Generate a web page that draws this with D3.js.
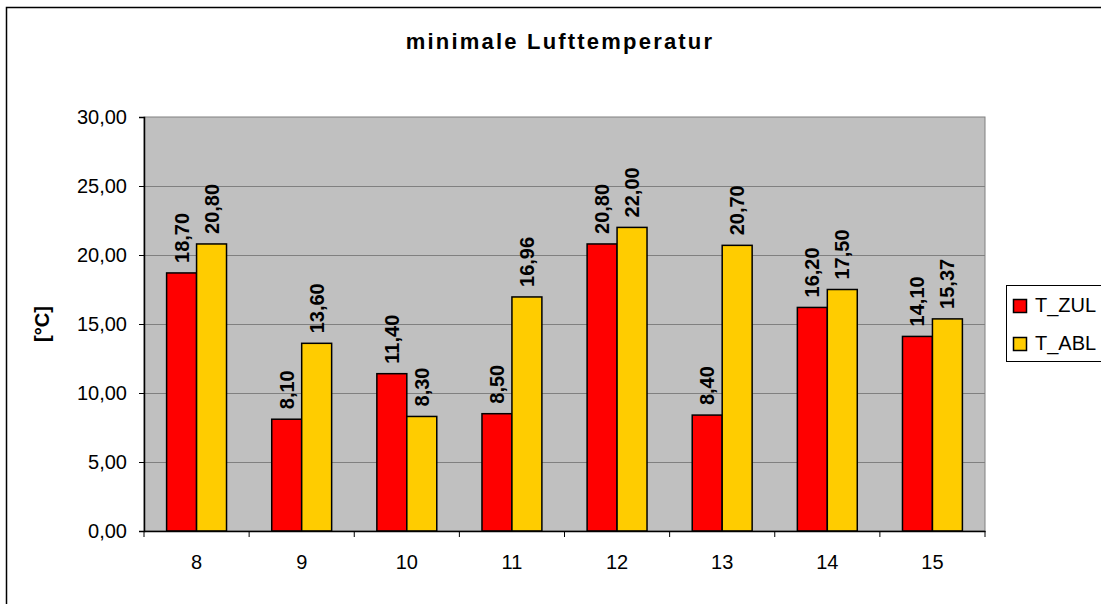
<!DOCTYPE html>
<html>
<head>
<meta charset="utf-8">
<script src="https://cdn.jsdelivr.net/npm/d3@7"></script>
<style>
  body { margin: 0; background: #fff; }
  svg { display: block; }
</style>
</head>
<body>
<svg id="chart" width="1101" height="604"></svg>
<script>
// Daten
const categories = ['8', '9', '10', '11', '12', '13', '14', '15'];
const seriesNames = ['T_ZUL', 'T_ABL'];
const tZul = [18.70, 8.10, 11.40, 8.50, 20.80, 8.40, 16.20, 14.10];
const tAbl = [20.80, 13.60, 8.30, 16.96, 22.00, 20.70, 17.50, 15.37];
const yTicks = [0, 5, 10, 15, 20, 25, 30];
const colors = ['#FF0000', '#FFCC00'];

const svg = d3.select('#chart');
const fmt = v => d3.format('.2f')(v).replace('.', ',');
const font = 'Liberation Sans, Arial';

// Rahmen (läuft rechts und unten aus dem Bild)
svg.append('rect')
  .attr('x', 6.5).attr('y', 7.5)
  .attr('width', 1200).attr('height', 700)
  .attr('fill', '#fff').attr('stroke', '#000').attr('stroke-width', 1.5);

const plot = { left: 144, top: 117, right: 985, bottom: 531 };

const x = d3.scaleBand()
  .domain(categories)
  .range([plot.left, plot.right])
  .paddingInner(0.43)
  .paddingOuter(0.215);

const xSub = d3.scaleBand()
  .domain(seriesNames)
  .range([0, x.bandwidth()]);

const y = d3.scaleLinear()
  .domain([0, 30])
  .range([plot.bottom, plot.top]);

// Hintergrund
svg.append('rect')
  .attr('x', plot.left).attr('y', plot.top)
  .attr('width', plot.right - plot.left).attr('height', plot.bottom - plot.top)
  .attr('fill', '#C0C0C0')
  .attr('stroke', '#808080');

// Gitterlinien
svg.append('g')
  .selectAll('line')
  .data(yTicks.filter(d => d > 0 && d < 30))
  .join('line')
  .attr('x1', plot.left).attr('x2', plot.right)
  .attr('y1', d => y(d) + 0.5).attr('y2', d => y(d) + 0.5)
  .attr('stroke', '#808080').attr('stroke-width', 1);

// Balken
const rows = categories.map((c, i) => ({ cat: c, values: [tZul[i], tAbl[i]] }));

const groups = svg.append('g')
  .selectAll('g')
  .data(rows)
  .join('g')
  .attr('transform', d => `translate(${x(d.cat)},0)`);

groups.selectAll('rect')
  .data(d => d.values.map((v, k) => ({ name: seriesNames[k], v: v, k: k })))
  .join('rect')
  .attr('x', d => xSub(d.name))
  .attr('y', d => y(d.v))
  .attr('width', xSub.bandwidth())
  .attr('height', d => y(0) - y(d.v))
  .attr('fill', d => colors[d.k])
  .attr('stroke', '#000')
  .attr('stroke-width', 1.5);

groups.selectAll('text')
  .data(d => d.values.map((v, k) => ({ name: seriesNames[k], v: v, k: k })))
  .join('text')
  .attr('transform', d => `translate(${xSub(d.name) + xSub.bandwidth() / 2 + 7},${y(d.v) - 10}) rotate(-90)`)
  .attr('font-family', font)
  .attr('font-weight', 'bold')
  .attr('font-size', '20px')
  .attr('fill', '#000')
  .text(d => fmt(d.v));

// Achsen
const yAxis = svg.append('g')
  .attr('transform', `translate(${plot.left},0)`)
  .call(d3.axisLeft(y).tickValues(yTicks).tickFormat(fmt).tickSize(5).tickPadding(12));
yAxis.select('.domain').attr('stroke', '#000').attr('stroke-width', 1.5);
yAxis.selectAll('.tick line').attr('stroke', '#000');
yAxis.selectAll('text')
  .attr('font-family', font)
  .attr('font-size', '20px')
  .attr('fill', '#000');

const xAxis = svg.append('g')
  .attr('transform', `translate(0,${plot.bottom})`)
  .call(d3.axisBottom(x).tickSize(0).tickPadding(24));
xAxis.select('.domain').attr('stroke', '#000').attr('stroke-width', 1.5);
xAxis.selectAll('text')
  .attr('font-family', font)
  .attr('font-size', '20px')
  .attr('fill', '#000');

// Kategoriegrenzen
svg.append('g')
  .selectAll('line')
  .data(d3.range(categories.length + 1))
  .join('line')
  .attr('x1', i => plot.left + i * (plot.right - plot.left) / categories.length)
  .attr('x2', i => plot.left + i * (plot.right - plot.left) / categories.length)
  .attr('y1', plot.bottom).attr('y2', plot.bottom + 6)
  .attr('stroke', '#000');

// Titel
svg.append('text')
  .attr('x', 560).attr('y', 49)
  .attr('text-anchor', 'middle')
  .attr('font-family', font)
  .attr('font-weight', 'bold')
  .attr('font-size', '22px')
  .attr('letter-spacing', '2.2px')
  .text('minimale Lufttemperatur');

// Achsentitel
svg.append('text')
  .attr('transform', 'translate(49,324) rotate(-90)')
  .attr('text-anchor', 'middle')
  .attr('font-family', font)
  .attr('font-weight', 'bold')
  .attr('font-size', '20px')
  .text('[°C]');

// Legende
const legend = svg.append('g').attr('transform', 'translate(1006,285)');
legend.append('rect')
  .attr('x', 0.5).attr('y', 0.5)
  .attr('width', 120).attr('height', 76)
  .attr('fill', '#fff').attr('stroke', '#000');

const items = legend.selectAll('g.item')
  .data(seriesNames)
  .join('g')
  .attr('class', 'item')
  .attr('transform', (d, i) => `translate(0,${i * 38})`);

items.append('rect')
  .attr('x', 7.5).attr('y', 14.5)
  .attr('width', 13).attr('height', 13)
  .attr('fill', (d, i) => colors[i])
  .attr('stroke', '#000').attr('stroke-width', 1.5);

items.append('text')
  .attr('x', 29).attr('y', 27)
  .attr('font-family', font)
  .attr('font-size', '20px')
  .text(d => d);
</script>
</body>
</html>
